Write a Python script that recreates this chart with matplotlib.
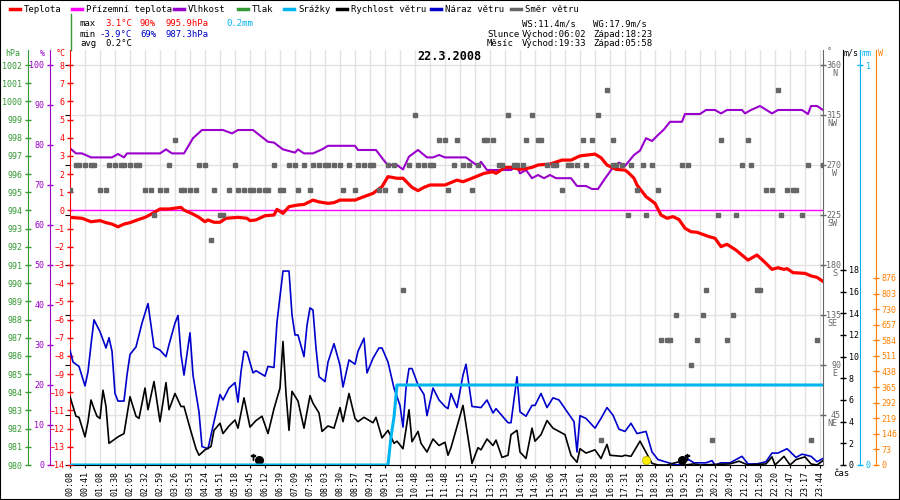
import matplotlib
matplotlib.use("Agg")
import matplotlib.pyplot as plt
import matplotlib.transforms as mtransforms
from matplotlib.lines import Line2D
from matplotlib.patches import Rectangle

plt.rcParams['font.family'] = 'DejaVu Sans Mono'
plt.rcParams['font.size'] = 6

# x axis: sample number, one label every 5 samples
time_labels = ["00:08", "00:41", "01:08", "01:38", "02:05", "02:32", "02:59", "03:26", "03:53",
               "04:24", "04:51", "05:18", "05:45", "06:12", "06:39", "07:09", "07:36", "08:03",
               "08:30", "08:57", "09:24", "09:51", "10:18", "10:48", "11:18", "11:48", "12:15",
               "12:45", "13:12", "13:39", "14:06", "14:36", "15:06", "15:34", "16:01", "16:28",
               "16:58", "17:31", "17:58", "18:28", "18:55", "19:25", "19:52", "20:22", "20:49",
               "21:22", "21:50", "22:20", "22:47", "23:17", "23:44"]

# Teplota [°C]
temp_idx = [0, 4, 7, 10, 12, 14, 16, 18, 20, 23, 25, 27, 30, 33, 37, 38, 41, 43, 45, 46, 48, 50,
            52, 56, 59, 60, 62, 65, 68, 69, 71, 73, 76, 78, 81, 83, 86, 88, 90, 95, 98, 101, 104,
            106, 109, 111, 114, 116, 118, 120, 125, 129, 131, 134, 138, 141, 142, 145, 147, 150,
            152, 154, 156, 160, 164, 167, 170, 175, 177, 179, 182, 185, 186, 188, 189, 192, 195,
            197, 199, 201, 203, 205, 207, 209, 213, 215, 217, 219, 222, 226, 229, 232, 234, 236,
            238, 239, 241, 245, 247, 249, 251]
temp_c = [-0.38, -0.43, -0.62, -0.56, -0.67, -0.75, -0.9, -0.75, -0.67, -0.49, -0.38, -0.21, 0.08,
          0.08, 0.17, 0.02, -0.2, -0.38, -0.62, -0.52, -0.65, -0.65, -0.43, -0.38, -0.43, -0.56,
          -0.52, -0.29, -0.25, 0.06, -0.16, 0.21, 0.3, 0.33, 0.57, 0.47, 0.39, 0.43, 0.57, 0.57,
          0.76, 0.94, 1.31, 1.86, 1.77, 1.77, 1.27, 1.09, 1.27, 1.4, 1.4, 1.67, 1.58, 1.77, 2.04,
          2.13, 2.04, 2.37, 2.37, 2.26, 2.3, 2.37, 2.5, 2.55, 2.77, 2.77, 3.0, 3.1, 2.9, 2.5, 2.26,
          2.22, 2.1, 1.77, 1.4, 0.76, 0.39, -0.25, -0.43, -0.34, -0.5, -0.98, -1.17, -1.2, -1.44,
          -1.53, -1.99, -1.86, -2.18, -2.73, -2.45, -2.91, -3.24, -3.15, -3.24, -3.2, -3.42,
          -3.46, -3.6, -3.68, -3.9]

# Přízemní teplota [°C]
ground_idx = [0, 251]
ground_c = [0.0, 0.0]

# Vlhkost [%]
hum_idx = [0, 2, 4, 7, 14, 16, 18, 19, 30, 32, 34, 38, 41, 44, 51, 54, 56, 61, 66, 68, 71, 75, 76,
           78, 81, 84, 86, 95, 96, 102, 105, 106, 109, 111, 113, 116, 119, 121, 123, 125, 132,
           134, 136, 137, 139, 147, 149, 150, 152, 154, 156, 158, 160, 162, 167, 169, 172, 174,
           176, 178, 181, 183, 185, 188, 190, 192, 194, 196, 198, 200, 204, 205, 210, 212, 215,
           217, 219, 224, 225, 227, 230, 234, 236, 244, 246, 247, 249, 251]
hum_pct = [79.2, 77.9, 77.9, 76.9, 76.9, 77.75, 76.9, 77.9, 77.9, 78.9, 77.9, 77.9, 81.7, 83.75,
           83.75, 82.9, 83.75, 83.75, 80.8, 80.6, 78.9, 78.1, 78.9, 77.9, 77.9, 78.9, 79.8, 79.8,
           78.75, 78.75, 75.8, 75.0, 75.0, 73.9, 77.1, 78.75, 76.9, 76.9, 77.5, 76.9, 76.9, 75.8,
           74.75, 75.8, 73.75, 73.75, 74.75, 72.9, 73.75, 71.7, 72.5, 71.7, 72.5, 71.7, 71.7,
           69.75, 69.75, 69.0, 69.0, 71.25, 74.4, 75.6, 74.75, 77.5, 78.6, 81.7, 81.0, 82.5, 83.9,
           85.8, 85.8, 87.75, 87.75, 88.75, 88.75, 87.9, 88.75, 88.75, 87.9, 88.75, 89.75, 87.9,
           88.75, 88.75, 87.75, 89.75, 89.75, 88.75]

# Náraz větru [m/s]
gust_idx = [0, 1, 3, 5, 6, 7, 8, 10, 12, 13, 14, 15, 16, 18, 19, 20, 22, 24, 26, 28, 30, 32, 33,
            35, 36, 37, 38, 40, 41, 43, 44, 46, 48, 50, 51, 53, 55, 56, 57, 58, 59, 61, 62, 65,
            66, 68, 69, 71, 73, 74, 75, 76, 78, 79, 80, 81, 82, 83, 85, 86, 88, 90, 91, 93, 95,
            96, 98, 99, 101, 103, 104, 106, 108, 110, 111, 112, 113, 114, 116, 118, 119, 121, 123,
            125, 126, 127, 129, 131, 132, 134, 137, 139, 141, 142, 146, 147, 149, 150, 152, 154,
            155, 157, 159, 161, 163, 166, 168, 169, 170, 172, 175, 177, 179, 181, 183, 185, 187,
            189, 192, 194, 196, 199, 202, 204, 205, 208, 212, 214, 215, 217, 220, 224, 226, 229,
            232, 234, 236, 239, 242, 244, 247, 249, 251]
gust_ms = [10.6, 9.5, 9.1, 7.3, 8.6, 11.1, 13.4, 12.3, 10.8, 11.75, 10.5, 6.6, 5.9, 5.9, 8.3, 10.2,
           10.9, 13.1, 14.9, 10.9, 10.6, 10.0, 11.1, 13.1, 13.8, 10.2, 8.3, 12.2, 8.3, 4.9, 1.7,
           1.5, 4.0, 6.5, 6.0, 7.1, 7.6, 5.8, 8.6, 10.5, 10.4, 8.5, 8.7, 8.2, 9.1, 9.0, 13.2, 17.9,
           17.9, 13.85, 12.0, 12.0, 10.0, 12.9, 14.5, 14.3, 10.8, 8.15, 7.7, 9.5, 11.2, 9.2, 7.2,
           9.7, 9.3, 10.5, 11.7, 8.5, 9.85, 10.8, 10.8, 9.5, 7.1, 5.5, 3.5, 7.1, 8.9, 8.9, 7.4,
           6.5, 4.55, 7.1, 6.0, 5.4, 5.2, 6.6, 5.3, 8.3, 9.3, 5.4, 5.3, 6.0, 4.8, 5.2, 3.9, 3.9,
           8.15, 4.9, 4.5, 5.5, 5.5, 6.6, 5.3, 6.2, 6.0, 4.8, 4.0, 1.2, 4.55, 4.3, 3.4, 4.3, 5.3,
           4.6, 3.3, 3.1, 3.85, 2.9, 3.1, 1.2, 0.5, 0.25, 0.0, 0.1, 0.7, 0.2, 0.2, 0.4, 0.0, 0.2,
           0.2, 0.8, 0.1, 0.1, 0.3, 1.1, 1.1, 1.5, 0.7, 1.0, 0.8, 0.3, 0.6]

# Rychlost větru [m/s]
wind_idx = [0, 2, 3, 5, 6, 7, 8, 9, 10, 11, 12, 13, 16, 18, 20, 22, 23, 25, 26, 28, 30, 32, 33,
            35, 37, 38, 40, 42, 43, 45, 47, 48, 50, 51, 53, 55, 56, 58, 60, 62, 64, 66, 68, 70,
            71, 72, 73, 74, 76, 78, 80, 81, 83, 84, 86, 88, 90, 91, 93, 95, 96, 98, 101, 102, 104,
            106, 108, 109, 111, 113, 114, 116, 117, 119, 121, 123, 125, 126, 127, 131, 132, 134,
            136, 137, 139, 141, 142, 144, 146, 147, 149, 150, 152, 154, 155, 157, 159, 161, 163,
            165, 167, 169, 170, 172, 175, 177, 179, 180, 184, 185, 187, 190, 194, 196, 199, 203,
            205, 208, 210, 220, 223, 226, 232, 234, 235, 238, 240, 242, 245, 247, 249, 251]
wind_ms = [6.3, 4.5, 4.4, 2.6, 4.0, 6.0, 5.2, 4.5, 4.3, 6.9, 5.4, 2.0, 2.6, 2.9, 6.3, 4.5, 4.3,
           7.1, 5.1, 7.7, 4.0, 7.6, 5.1, 6.6, 5.4, 5.4, 3.4, 1.5, 0.9, 1.4, 1.7, 3.2, 3.85, 2.9,
           3.6, 4.15, 3.4, 6.2, 3.5, 4.1, 4.5, 2.9, 5.2, 7.1, 11.4, 6.6, 3.2, 6.8, 5.9, 3.4, 6.4,
           5.7, 4.8, 3.1, 3.6, 3.4, 5.3, 4.0, 6.6, 4.3, 4.0, 4.4, 3.9, 4.4, 2.5, 3.2, 2.0, 2.2,
           1.5, 5.1, 2.15, 3.1, 2.0, 1.2, 2.4, 1.8, 2.1, 0.9, 1.6, 5.5, 3.7, 0.15, 1.6, 1.4, 2.4,
           1.8, 2.3, 0.7, 0.9, 2.8, 3.2, 1.2, 0.6, 3.4, 2.2, 2.8, 4.1, 3.4, 3.1, 2.8, 0.9, 0.25,
           1.5, 1.1, 1.4, 0.6, 1.9, 0.9, 0.8, 0.9, 0.8, 2.2, 0.15, 0.0, 0.0, 0.3, 0.0, 0.1, 0.0,
           0.1, 0.35, 0.0, 0.1, 0.75, 0.0, 0.8, 0.0, 0.5, 0.75, 0.1, 0.0, 0.4]

# Srážky, cumulative [mm]
rain_idx = [0, 106, 107, 108, 109, 251]
rain_mm = [0.0, 0.0, 0.07, 0.12, 0.2, 0.2]

# Směr větru [°]
dir_idx = [0, 2, 3, 5, 7, 8, 10, 12, 13, 15, 17, 18, 20, 22, 23, 25, 27, 28, 30, 32, 33, 35, 37,
           38, 40, 42, 43, 45, 47, 48, 50, 51, 53, 55, 56, 58, 60, 61, 63, 65, 66, 68, 70, 71, 73,
           75, 76, 78, 80, 81, 83, 85, 86, 88, 90, 91, 93, 95, 96, 98, 100, 101, 103, 105, 106,
           108, 110, 111, 113, 115, 116, 118, 120, 121, 123, 125, 126, 128, 129, 131, 133, 134,
           136, 138, 139, 141, 143, 144, 146, 148, 149, 151, 152, 154, 156, 157, 159, 161, 162,
           164, 166, 167, 169, 171, 172, 174, 176, 177, 179, 181, 181, 182, 184, 186, 187, 189,
           191, 192, 194, 196, 197, 199, 200, 202, 204, 206, 207, 209, 211, 212, 214, 216, 217,
           219, 221, 222, 224, 226, 227, 229, 230, 232, 234, 236, 237, 239, 241, 242, 244, 246,
           247, 249, 251]
dir_deg = [247.5, 270, 270, 270, 270, 270, 247.5, 247.5, 270, 270, 270, 270, 270, 270, 270, 247.5,
           247.5, 225, 247.5, 247.5, 270, 292.5, 247.5, 247.5, 247.5, 247.5, 270, 270, 202.5,
           247.5, 225, 225, 247.5, 270, 247.5, 247.5, 247.5, 247.5, 247.5, 247.5, 247.5, 270,
           247.5, 247.5, 270, 270, 247.5, 270, 247.5, 270, 270, 270, 270, 270, 270, 247.5, 270,
           247.5, 270, 270, 270, 270, 247.5, 247.5, 270, 270, 247.5, 157.5, 270, 315, 270, 270,
           270, 270, 292.5, 292.5, 247.5, 270, 292.5, 270, 270, 247.5, 270, 292.5, 292.5, 292.5,
           270, 270, 315, 270, 270, 270, 292.5, 315, 292.5, 292.5, 270, 270, 270, 247.5, 270, 270,
           270, 292.5, 270, 292.5, 315, 22.5, 337.5, 292.5, 270, 270, 270, 225, 270, 247.5, 270,
           225, 270, 247.5, 112.5, 112.5, 112.5, 135, 270, 270, 90, 112.5, 135, 157.5, 22.5, 225,
           292.5, 112.5, 135, 225, 270, 292.5, 270, 157.5, 157.5, 247.5, 247.5, 337.5, 225, 247.5,
           247.5, 247.5, 225, 270, 22.5, 112.5, 270]

# sunrise / sunset, moon rise / set (sample numbers)
sunrise_idx, sunset_idx = 63, 192
moonset_idx, moonrise_idx = 61, 204

RED, MAG, PUR, GRN = '#ff0000', '#ff00ff', '#9900cc', '#339933'
CYA, BLK, BLU, GRY, ORA = '#00b4f0', '#000000', '#0000cc', '#666666', '#ff8000'
GRID = '#e6e1e1'

W, H = 900, 500
fig = plt.figure(figsize=(9, 5), dpi=100)
ax = fig.add_axes([70 / W, 35 / H, 753 / W, 415 / H])


def fx(px):
    return px / W


def fy(py):
    return 1 - py / H


# base axes: grid + time axis
ax.set_xlim(0, 251)
ax.set_ylim(0, 373.5)
ax.set_xticks(range(0, 251, 5))
ax.set_xticklabels(time_labels, rotation=90)
ax.set_yticks(range(0, 361, 45))
ax.tick_params(axis='x', length=2, pad=2, labelsize=6)
ax.tick_params(axis='y', left=False, labelleft=False)
ax.grid(True, color=GRID, lw=1)
ax.set_axisbelow(True)
for s in ['left', 'right', 'top']:
    ax.spines[s].set_visible(False)
ax.spines['bottom'].set_color(BLK)


def twin(side, pos, color, lo, hi, ticks, labels=None):
    tw = ax.twinx()
    tw.set_ylim(lo, hi)
    for s in tw.spines.values():
        s.set_visible(False)
    tw.spines[side].set_visible(True)
    tw.spines[side].set_position(('axes', pos))
    tw.spines[side].set_color(color)
    tw.yaxis.set_ticks_position(side)
    tw.set_yticks(ticks)
    if labels is not None:
        tw.set_yticklabels(labels)
    tw.tick_params(axis='y', direction='inout', length=5, width=1, colors=color,
                   labelsize=6, pad=1.5)
    tw.patch.set_visible(False)
    return tw


ax_hpa = twin('left', -0.0558, GRN, 980, 1002.825, range(980, 1003))
ax_hum = twin('left', -0.0266, PUR, 0, 103.75, range(0, 101, 10))
ax_t = twin('left', 0.0, RED, -14, 8.825, range(-14, 9))
ax_dir = twin('right', 1.0, GRY, 0, 373.5, range(45, 361, 45), [''] * 8)
ax_ms = twin('right', 1.0266, BLK, 0, 38.3, range(0, 19, 2))
ax_mm = twin('right', 1.0491, CYA, 0, 1.0375, [0, 1])
ax_w = twin('right', 1.0704, ORA, 0, 1944, range(0, 877, 73))

# data
ax_hum.plot(hum_idx, hum_pct, color=PUR, lw=1.5)
ax_t.plot(ground_idx, ground_c, color=MAG, lw=1)
ax_t.plot(temp_idx, temp_c, color=RED, lw=2.3)
ax_dir.plot(dir_idx, dir_deg, ls='none', marker='s', ms=3.2, color=GRY, mec=GRY)
ax_ms.plot(gust_idx, gust_ms, color=BLU, lw=1.2)
ax_ms.plot(wind_idx, wind_ms, color=BLK, lw=1.2)
ax_ms.plot([sunrise_idx, moonrise_idx], [0.45, 0.45], ls='none', marker='o', ms=5.5, color=BLK)
ax_ms.plot([sunset_idx], [0.45], ls='none', marker='o', ms=6, color='#ffee00', mec='#aaaa00', mew=0.5)
ax_ms.plot([moonset_idx, moonrise_idx + 1.5], [0.7, 0.7], ls='none', marker=r'$\dagger$', ms=5, color=BLK)
ax_mm.plot(rain_idx, rain_mm, color=CYA, lw=2.2)

# direction labels (number + compass point)
dtrans = mtransforms.blended_transform_factory(fig.transFigure, ax_dir.transData)
for deg, name in zip(range(45, 361, 45), ['NE', 'E', 'SE', 'S', 'SW', 'W', 'NW', 'N']):
    fig.text(fx(841), deg, str(deg), transform=dtrans, ha='right', va='center', color=GRY, fontsize=6)
    fig.text(fx(837), deg, name, transform=mtransforms.offset_copy(dtrans, fig=fig, y=-8.5, units='dots'),
             ha='right', va='center', color=GRY, fontsize=6)

# axis headers
fig.text(fx(5), fy(54), 'hPa', color=GRN, va='center', fontsize=6)
fig.text(fx(40), fy(54), '%', color=PUR, va='center', fontsize=6)
fig.text(fx(56), fy(54), '°C', color=RED, va='center', fontsize=6)
fig.text(fx(827), fy(52), '°', color=GRY, va='center', fontsize=6)
fig.text(fx(844), fy(53), 'm/s', color=BLK, va='center', fontsize=6)
fig.text(fx(861), fy(53), 'mm', color=CYA, va='center', fontsize=6)
fig.text(fx(878), fy(53), 'W', color=ORA, va='center', fontsize=6)
fig.text(fx(833), fy(474), 'čas', color=BLK, va='center', fontsize=6.5)
fig.add_artist(Line2D([fx(71), fx(71)], [fy(14), fy(50)], color=GRN, lw=1))

# title
fig.text(fx(449), fy(57), '22.3.2008', ha='center', va='center', fontsize=8.5, fontweight='bold')

# legend row
legend = [('Teplota', RED, 10), ('Přízemní teplota', MAG, 72), ('Vlhkost', PUR, 174),
          ('Tlak', GRN, 238), ('Srážky', CYA, 284), ('Rychlost větru', BLK, 337),
          ('Náraz větru', BLU, 431), ('Směr větru', GRY, 511)]
for name, col, x0 in legend:
    fig.add_artist(Line2D([fx(x0), fx(x0 + 10)], [fy(9), fy(9)], color=col, lw=2.5))
    fig.text(fx(x0 + 14), fy(9), name, va='center', fontsize=6.5)

# statistics block
rows = [(24, [('max', BLK, 80), ('3.1°C', RED, 105), ('90%', RED, 140), ('995.9hPa', RED, 165),
              ('0.2mm', CYA, 226), ('WS:11.4m/s', BLK, 522), ('WG:17.9m/s', BLK, 593)]),
        (34, [('min', BLK, 80), ('-3.9°C', BLU, 99), ('69%', BLU, 140), ('987.3hPa', BLU, 165),
              ('Slunce', BLK, 487), ('Východ:06:02', BLK, 522), ('Západ:18:23', BLK, 593)]),
        (44, [('avg', BLK, 80), ('0.2°C', BLK, 105),
              ('Měsíc', BLK, 487), ('Východ:19:33', BLK, 522), ('Západ:05:58', BLK, 593)])]
for y, items in rows:
    for txt, col, x in items:
        fig.text(fx(x), fy(y), txt, color=col, va='center', fontsize=6.5)

# outer frame
fig.add_artist(Rectangle((0, 0), 1, 1, transform=fig.transFigure, fill=False, ec=BLK, lw=1.5))

fig.savefig('out.png', dpi=100)
